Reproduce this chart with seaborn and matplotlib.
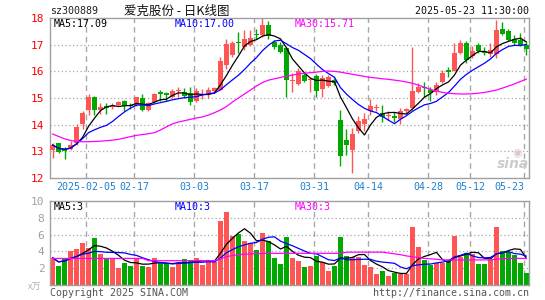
# daily K-line chart for 爱克股份 (sz300889), sina style

import pandas as pd
import matplotlib
matplotlib.use('Agg')
import matplotlib.pyplot as plt
import seaborn as sns

holidays = ['2025-01-28', '2025-01-29', '2025-01-30', '2025-01-31', '2025-02-03',
            '2025-02-04', '2025-04-04', '2025-05-01', '2025-05-02', '2025-05-05']
dates = [d for d in pd.bdate_range('2025-01-20', '2025-05-23').strftime('%Y-%m-%d')
         if d not in holidays]

opens = [
    13.05, 13.30, 13.08, 13.10, 13.30, 14.01, 14.55, 15.03, 14.55, 14.71,
    14.65, 14.74, 14.89, 14.74, 14.74, 15.01, 14.55, 14.86, 15.24, 15.17,
    15.05, 15.26, 15.24, 15.18, 14.88, 15.10, 15.20, 15.28, 15.30, 16.24,
    16.61, 17.08, 16.93, 16.99, 17.41, 17.36, 17.74, 17.11, 16.99, 16.86,
    15.62, 15.51, 15.86, 15.68, 15.83, 15.34, 15.46, 15.68, 14.18, 13.43,
    13.05, 13.76, 14.01, 14.53, 14.64, 14.43, 14.34, 14.33, 14.20, 14.53,
    14.61, 15.24, 15.42, 15.30, 15.24, 15.60, 16.05, 16.00, 16.70, 17.05,
    16.58, 17.00, 16.72, 16.65, 16.65, 17.60, 17.52, 17.20, 17.18, 16.99]
closes = [
    13.24, 12.99, 13.00, 13.24, 13.93, 14.45, 15.05, 14.55, 14.66, 14.63,
    14.70, 14.86, 14.70, 14.70, 15.02, 14.55, 14.80, 15.15, 15.15, 15.13,
    15.26, 15.29, 15.08, 14.86, 15.27, 15.15, 15.30, 15.36, 16.40, 17.03,
    17.07, 17.05, 17.20, 17.24, 17.38, 17.74, 17.32, 16.93, 16.72, 15.68,
    15.66, 16.01, 15.64, 15.71, 15.26, 15.74, 15.80, 15.55, 12.84, 13.24,
    13.64, 14.14, 14.21, 14.71, 14.67, 14.30, 14.37, 14.25, 14.51, 14.57,
    15.26, 15.43, 15.38, 15.20, 15.49, 15.95, 15.99, 16.68, 17.06, 16.43,
    16.78, 16.78, 16.68, 16.80, 17.55, 17.40, 17.18, 17.08, 17.00, 16.84]
highs = [
    13.30, 13.32, 13.17, 13.39, 14.01, 14.51, 15.14, 15.09, 14.80, 14.80,
    14.80, 14.90, 14.92, 14.82, 15.05, 15.15, 14.85, 15.20, 15.30, 15.22,
    15.35, 15.43, 15.36, 15.40, 15.38, 15.33, 15.42, 15.42, 16.55, 17.20,
    17.15, 17.49, 17.55, 17.55, 17.58, 17.99, 17.87, 17.18, 17.10, 16.93,
    15.92, 16.11, 15.99, 15.80, 15.90, 15.86, 15.86, 15.74, 14.55, 13.83,
    13.86, 14.33, 14.43, 14.96, 14.77, 14.74, 14.51, 14.49, 14.61, 14.61,
    16.93, 15.55, 15.60, 15.40, 15.60, 16.05, 16.17, 17.05, 17.18, 17.12,
    16.95, 17.05, 16.90, 17.08, 17.93, 17.86, 17.60, 17.35, 17.45, 17.11]
lows = [
    12.74, 12.95, 12.70, 13.05, 13.25, 13.83, 14.36, 14.36, 14.40, 14.40,
    14.58, 14.70, 14.52, 14.60, 14.70, 14.50, 14.50, 14.80, 14.90, 14.88,
    15.00, 15.05, 15.00, 14.74, 14.85, 14.95, 15.00, 15.20, 15.30, 16.10,
    16.55, 16.70, 16.80, 16.95, 17.20, 17.30, 17.20, 16.85, 16.68, 15.03,
    15.24, 15.48, 15.60, 15.24, 15.05, 15.05, 15.40, 15.50, 12.46, 12.86,
    12.18, 13.70, 13.76, 14.36, 14.52, 14.11, 14.18, 14.11, 14.02, 14.39,
    14.55, 15.20, 15.05, 14.90, 15.10, 15.55, 15.80, 16.00, 16.65, 16.30,
    16.50, 16.70, 16.60, 16.55, 16.50, 17.38, 17.15, 16.99, 16.95, 16.61]
# volume in 万 (10k)
volumes = [
    3.24, 2.24, 3.05, 4.05, 4.30, 5.05, 4.45, 5.60, 3.65, 3.25,
    3.10, 2.05, 2.65, 2.25, 3.05, 2.30, 2.10, 3.20, 2.65, 2.60,
    2.10, 2.60, 3.10, 2.95, 3.25, 2.35, 2.85, 2.75, 7.65, 8.70,
    5.85, 6.10, 5.25, 4.95, 4.15, 6.25, 5.25, 3.25, 2.50, 5.75,
    3.25, 2.90, 2.10, 2.25, 3.50, 2.75, 1.70, 2.25, 5.70, 3.45,
    3.30, 3.30, 2.35, 2.10, 1.30, 1.65, 1.05, 1.45, 1.30, 1.30,
    6.90, 4.50, 2.95, 2.40, 2.65, 2.60, 2.80, 5.85, 3.30, 3.80,
    3.70, 2.50, 2.50, 2.95, 6.95, 4.10, 3.95, 3.55, 2.60, 1.45]
ma30_price = [
    13.65, 13.56, 13.47, 13.41, 13.37, 13.36, 13.36, 13.37, 13.38, 13.40,
    13.42, 13.45, 13.50, 13.55, 13.60, 13.63, 13.66, 13.70, 13.80, 13.92,
    14.03, 14.10, 14.15, 14.20, 14.25, 14.29, 14.36, 14.45, 14.55, 14.68,
    14.85, 15.00, 15.15, 15.30, 15.45, 15.58, 15.67, 15.72, 15.77, 15.82,
    15.86, 15.90, 15.93, 15.95, 15.97, 16.00, 16.01, 16.00, 15.97, 15.93,
    15.89, 15.85, 15.81, 15.77, 15.75, 15.72, 15.70, 15.67, 15.64, 15.60,
    15.55, 15.48, 15.40, 15.32, 15.26, 15.21, 15.18, 15.16, 15.15, 15.15,
    15.16, 15.18, 15.21, 15.25, 15.30, 15.37, 15.45, 15.53, 15.62, 15.71]
ma30_vol = [
    3.15, 3.15, 3.15, 3.15, 3.15, 3.15, 3.15, 3.15, 3.15, 3.15,
    3.15, 3.15, 3.15, 3.15, 3.15, 3.15, 2.88, 2.88, 2.88, 2.88,
    2.88, 2.88, 2.88, 2.88, 2.88, 2.88, 2.88, 2.88, 3.10, 3.35,
    3.50, 3.60, 3.65, 3.70, 3.72, 3.75, 3.76, 3.76, 3.76, 3.76,
    3.76, 3.76, 3.76, 3.76, 3.76, 3.76, 3.76, 3.76, 3.76, 3.90,
    3.90, 3.90, 3.90, 3.90, 3.90, 3.90, 3.80, 3.70, 3.60, 3.45,
    3.35, 3.25, 3.15, 3.10, 3.05, 2.97, 2.97, 2.97, 2.97, 2.97,
    2.97, 2.97, 2.97, 2.97, 3.08, 3.10, 3.15, 3.15, 3.15, 3.15]

tick_dates = ['2025-02-05', '2025-02-17', '2025-03-03', '2025-03-17', '2025-03-31',
              '2025-04-14', '2025-04-28', '2025-05-12', '2025-05-23']
tick_labels = ['2025-02-05', '02-17', '03-03', '03-17', '03-31', '04-14', '04-28', '05-12', '05-23']

# latest values as printed on the chart
price_ma_text = ['MA5:17.09', 'MA10:17.00', 'MA30:15.71']
vol_ma_text = ['MA5:3', 'MA10:3', 'MA30:3']

df = pd.DataFrame({'Date': dates, 'Open': opens, 'Close': closes, 'High': highs,
                   'Low': lows, 'Vol': volumes, 'MA30': ma30_price, 'VMA30': ma30_vol})
df['i'] = range(len(df))
df['MA5'] = df['Close'].rolling(5, min_periods=1).mean()
df['MA10'] = df['Close'].rolling(10, min_periods=1).mean()
df['VMA5'] = df['Vol'].rolling(5, min_periods=1).mean()
df['VMA10'] = df['Vol'].rolling(10, min_periods=1).mean()

RED = '#ff5555'
GREEN = '#00a800'
GRID = '#a8a8a8'
MONO = 'DejaVu Sans Mono'
CJK = ['Noto Sans CJK SC', 'DejaVu Sans']
ma_colors = ['black', '#0000ff', '#ff00ff']
df['Color'] = [RED if c >= o else GREEN for o, c in zip(df['Open'], df['Close'])]

sns.set_style('white')
plt.rcParams['font.family'] = ['DejaVu Sans Mono', 'Noto Sans CJK SC']

W, H = 545, 300
fig = plt.figure(figsize=(W / 100, H / 100), dpi=100)
fig.patch.set_facecolor('white')

def box(left, top, right, bottom):
    return [left / W, 1 - bottom / H, (right - left) / W, (bottom - top) / H]

def px(x, y):
    return x / W, 1 - y / H

ax = fig.add_axes(box(50, 18, 529, 178))
axv = fig.add_axes(box(50, 201.3, 529, 284.7))

xmin, xmax = -0.417, 79.42
grid_x = [df.index[df['Date'] == d][0] - 0.35 for d in tick_dates]

for a in (ax, axv):
    a.set_xlim(xmin, xmax)
    for s in a.spines.values():
        s.set_color('#a0a0a0')
        s.set_linewidth(1)
    for gx in grid_x:
        a.axvline(gx, color=GRID, lw=1, ls=(0, (4, 3)), zorder=0)
    a.tick_params(length=0)

# candles
bw = 0.83
for _, r in df.iterrows():
    ax.vlines(r['i'], r['Low'], r['High'], color=r['Color'], lw=1, zorder=2)
    lo = min(r['Open'], r['Close'])
    h = max(abs(r['Close'] - r['Open']), 0.035)
    ax.bar(r['i'], h, bottom=lo, width=bw, color=r['Color'], lw=0, zorder=3)

for col, c in zip(['MA5', 'MA10', 'MA30'], ma_colors):
    sns.lineplot(data=df, x='i', y=col, ax=ax, color=c, lw=0.9, zorder=4)

ax.set_ylim(12, 18)
for yv in range(13, 18):
    ax.axhline(yv, color=GRID, lw=0.9, ls=(0, (1, 2)), zorder=0)
ax.set_yticks(range(12, 19))
ax.set_yticklabels([str(v) for v in range(12, 19)], color='#ff0000', fontsize=8, family=MONO)
ax.set_xticks(grid_x)
ax.set_xticklabels(tick_labels, color='#1e80d0', fontsize=7.2, family=MONO)
ax.get_xticklabels()[-1].set_horizontalalignment('right')
ax.tick_params(axis='x', pad=3)
ax.tick_params(axis='y', pad=4)
ax.set_xlabel('')
ax.set_ylabel('')

# volume
axv.bar(df['i'], df['Vol'], width=bw, color=df['Color'], lw=0, zorder=2)
for col, c in zip(['VMA5', 'VMA10', 'VMA30'], ma_colors):
    sns.lineplot(data=df, x='i', y=col, ax=axv, color=c, lw=0.9, zorder=4)
axv.set_ylim(0, 10)
for yv in (2, 4, 6, 8):
    axv.axhline(yv, color=GRID, lw=0.9, ls=(0, (1, 2)), zorder=0)
axv.set_yticks([2, 4, 6, 8, 10])
axv.set_yticklabels(['2', '4', '6', '8', '10'], color='#a0a0a0', fontsize=8, family=MONO)
axv.tick_params(axis='y', pad=4)
axv.set_xticks([])
axv.set_xlabel('')
axv.set_ylabel('')

# header and labels
fs = 7.2
fig.text(*px(50, 11), 'sz300889', ha='left', va='center', fontsize=fs, family=MONO, color='#222222')
fig.text(*px(177, 11), '爱克股份 - 日K线图', ha='center', va='center', fontsize=9,
         family=CJK, color='#111111')
fig.text(*px(529, 11), '2025-05-23 11:30:00', ha='right', va='center', fontsize=fs, family=MONO, color='#111111')

for xpos, t, c in zip([54, 175, 295], price_ma_text, ma_colors):
    fig.text(*px(xpos, 24), t, ha='left', va='center', fontsize=fs, family=MONO, color=c)
for xpos, t, c in zip([54, 175, 295], vol_ma_text, ma_colors):
    fig.text(*px(xpos, 206.5), t, ha='left', va='center', fontsize=fs, family=MONO, color=c)

fig.text(*px(28, 287), 'x万', ha='left', va='center', fontsize=6.5, family=CJK, color='#b0b0b0')
fig.text(*px(50, 292.5), 'Copyright 2025 SINA.COM', ha='left', va='center', fontsize=fs, family=MONO, color='#555555')
fig.text(*px(529, 292.5), 'http://finance.sina.com.cn', ha='right', va='center', fontsize=fs, family=MONO, color='#555555')

# watermark
fig.text(*px(513, 164), 'sina', ha='center', va='center', fontsize=10, fontweight='bold',
         style='italic', family='DejaVu Sans', color='#cccccc')
fig.text(*px(517, 153), '◉', ha='center', va='center', fontsize=8, family='DejaVu Sans', color='#e0c8c8')

fig.savefig('out.png', dpi=100)
